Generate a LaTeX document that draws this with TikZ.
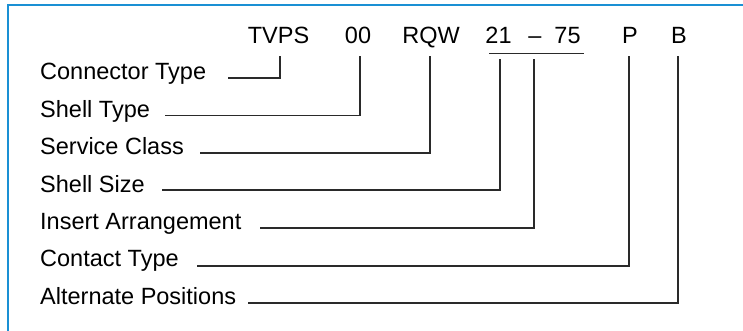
\documentclass[tikz,border=0pt]{standalone}
\usepackage{fontspec}
\setmainfont{Liberation Sans}
\definecolor{frameblue}{HTML}{1A90D4}
\definecolor{lineg}{HTML}{2A2A2A}
\begin{document}
\begin{tikzpicture}[x=1pt,y=-1pt,
  lbl/.style={anchor=base west,inner sep=0pt,font=\fontsize{23.5}{28}\selectfont},
  code/.style={anchor=base,inner sep=0pt,font=\fontsize{23.5}{28}\selectfont},
  conn/.style={draw=lineg,line width=1.3pt}]
\useasboundingbox (0,0) rectangle (743,331);
\fill[white] (0,0) rectangle (743,331);
\draw[frameblue,line width=2.2pt] (8,331) -- (8,4.7) -- (743,4.7);
% codes
\node[code] (tvps) at (278.5,43.3) {TVPS};
\node[code] (oo) at (358,43.3) {00};
\node[code] (rqw) at (431,43.3) {RQW};
\node[code] (n21) at (498.5,43.3) {21};
\node[code] (dash) at (535,43.3) {--};
\node[code] (n75) at (567.5,43.3) {75};
\node[code] (p) at (630,43.3) {P};
\node[code] (b) at (679,43.3) {B};
% labels
\node[lbl] (l1) at (40,79.8) {Connector Type};
\node[lbl] (l2) at (40,117.2) {Shell Type};
\node[lbl] (l3) at (40,154.6) {Service Class};
\node[lbl] (l4) at (40,192) {Shell Size};
\node[lbl] (l5) at (40,229.4) {Insert Arrangement};
\node[lbl] (l6) at (40,266.8) {Contact Type};
\node[lbl] (l7) at (40,304.2) {Alternate Positions};
% connector end points
\coordinate (t1) at (280,56);
\coordinate (t2) at (360,56);
\coordinate (t3) at (430,56);
\coordinate (t4) at (500,59);
\coordinate (t5) at (534,59);
\coordinate (t6) at (629,56);
\coordinate (t7) at (678,56);
\coordinate (s1) at (228,78);
\coordinate (s2) at (165,115.5);
\coordinate (s3) at (200,153);
\coordinate (s4) at (162,190);
\coordinate (s5) at (260,228);
\coordinate (s6) at (197,266);
\coordinate (s7) at (248,303);
\coordinate (bl) at (489,53.5);
\coordinate (br) at (584,53.5);
\draw[conn] (bl) -- (br);
\draw[conn] (s1) -| (t1);
\draw[conn] (s2) -| (t2);
\draw[conn] (s3) -| (t3);
\draw[conn] (s4) -| (t4);
\draw[conn] (s5) -| (t5);
\draw[conn] (s6) -| (t6);
\draw[conn] (s7) -| (t7);
\end{tikzpicture}
\end{document}
